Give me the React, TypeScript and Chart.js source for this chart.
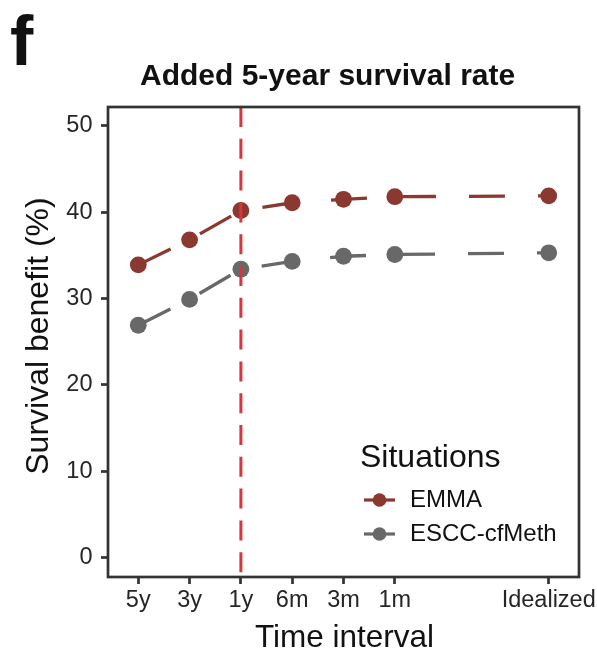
import React, { useEffect, useRef } from 'react';
import { Chart, registerables } from 'chart.js';

Chart.register(...registerables);

const categories = ['5y', '3y', '1y', '6m', '3m', '1m', 'Idealized'];
const categoryPositions = [0, 1, 2, 3, 4, 5, 8];
const emmaValues = [33.9, 36.8, 40.2, 41.1, 41.5, 41.8, 41.9];
const esccValues = [26.9, 29.9, 33.4, 34.3, 34.9, 35.1, 35.3];
const yTickValues = [0, 10, 20, 30, 40, 50];
const seriesLabels = ['EMMA', 'ESCC-cfMeth'];
const seriesColors = ['#8A3830', '#686868'];
const cutoffCategory = '1y';
const panelLetter = 'f';
const chartTitle = 'Added 5-year survival rate';
const xTitle = 'Time interval';
const yTitle = 'Survival benefit (%)';
const legendTitle = 'Situations';

const FONT = "'Liberation Sans', Arial, Helvetica, sans-serif";

const decorPlugin = {
  id: 'decor',
  afterDatasetsDraw(chart: any) {
    const { ctx, chartArea: a, scales } = chart;
    const xv = categoryPositions[categories.indexOf(cutoffCategory)];
    const x = scales.x.getPixelForValue(xv);
    ctx.save();
    ctx.strokeStyle = '#D6373D';
    ctx.lineWidth = 3;
    ctx.setLineDash([20, 11.8]);
    ctx.beginPath();
    ctx.moveTo(x, a.top);
    ctx.lineTo(x, a.bottom);
    ctx.stroke();
    ctx.setLineDash([]);
    ctx.strokeStyle = '#333333';
    ctx.lineWidth = 2.7;
    ctx.strokeRect(a.left, a.top, a.right - a.left, a.bottom - a.top);
    ctx.restore();
  },
  afterDraw(chart: any) {
    const { ctx, chartArea: a } = chart;
    ctx.save();
    ctx.fillStyle = '#111111';
    ctx.textBaseline = 'alphabetic';
    // panel letter
    ctx.font = `bold 70px ${FONT}`;
    ctx.textAlign = 'left';
    ctx.fillText(panelLetter, 10, 65);
    // title
    ctx.font = `bold 30px ${FONT}`;
    ctx.fillText(chartTitle, 140, 85);
    // x title
    ctx.font = `31.5px ${FONT}`;
    ctx.textAlign = 'center';
    ctx.fillText(xTitle, (a.left + a.right) / 2 + 1, 646.7);
    // y title
    ctx.save();
    ctx.translate(47.5, 336);
    ctx.rotate(-Math.PI / 2);
    ctx.font = `32px ${FONT}`;
    ctx.fillText(yTitle, 0, 0);
    ctx.restore();
    // legend
    ctx.textAlign = 'left';
    ctx.font = `32px ${FONT}`;
    ctx.fillText(legendTitle, 360, 466.7);
    const rowY = [500, 534];
    const baseY = [507.3, 541];
    chart.data.datasets.forEach((ds: any, i: number) => {
      ctx.strokeStyle = ds.borderColor;
      ctx.lineWidth = 3.2;
      ctx.beginPath();
      ctx.moveTo(364, rowY[i]);
      ctx.lineTo(395, rowY[i]);
      ctx.stroke();
      ctx.fillStyle = ds.pointBackgroundColor;
      ctx.beginPath();
      ctx.arc(379.5, rowY[i], 6.8, 0, Math.PI * 2);
      ctx.fill();
      ctx.fillStyle = '#111111';
      ctx.font = `24px ${FONT}`;
      ctx.fillText(ds.label, 410, baseY[i]);
    });
    ctx.restore();
  },
};

export default function App() {
  const canvasRef = useRef<HTMLCanvasElement | null>(null);

  useEffect(() => {
    document.body.style.margin = '0';
    const canvas = canvasRef.current;
    if (!canvas) return;
    const makeData = (vals: number[]) =>
      vals.map((v, i) => ({ x: categoryPositions[i], y: v }));
    const chart = new Chart(canvas, {
      type: 'line',
      data: {
        datasets: [emmaValues, esccValues].map((vals, i) => ({
          label: seriesLabels[i],
          data: makeData(vals),
          borderColor: seriesColors[i],
          backgroundColor: seriesColors[i],
          pointBackgroundColor: seriesColors[i],
          pointBorderColor: seriesColors[i],
          pointBorderWidth: 0,
          pointRadius: 8.4,
          borderWidth: 3.3,
          borderDash: [36, 33],
          borderCapStyle: 'butt',
          tension: 0,
          fill: false,
        })),
      },
      options: {
        responsive: false,
        animation: false,
        devicePixelRatio: 1,
        events: [],
        layout: { padding: { top: 107, right: 18, left: 0, bottom: 0 } },
        plugins: {
          legend: { display: false },
          title: { display: false },
          tooltip: { enabled: false },
        },
        scales: {
          x: {
            type: 'linear',
            min: -0.59,
            max: 8.59,
            afterBuildTicks: (s: any) => {
              s.ticks = categoryPositions.map((v) => ({ value: v }));
            },
            afterFit: (s: any) => {
              s.height = 73;
              s.paddingLeft = 0;
              s.paddingRight = 0;
            },
            grid: {
              drawOnChartArea: false,
              drawTicks: true,
              tickLength: 7,
              tickWidth: 2.7,
              tickColor: '#333333',
            },
            border: { display: false },
            ticks: {
              autoSkip: false,
              maxRotation: 0,
              minRotation: 0,
              padding: 2,
              color: '#262626',
              font: { family: FONT, size: 23.5 },
              callback: (value: any) => {
                const idx = categoryPositions.indexOf(Number(value));
                return idx >= 0 ? categories[idx] : '';
              },
            },
          },
          y: {
            type: 'linear',
            min: -2.28,
            max: 52.2,
            afterBuildTicks: (s: any) => {
              s.ticks = yTickValues.map((v) => ({ value: v }));
            },
            afterFit: (s: any) => {
              s.width = 108;
              s.paddingTop = 0;
              s.paddingBottom = 0;
            },
            grid: {
              drawOnChartArea: false,
              drawTicks: true,
              tickLength: 7,
              tickWidth: 2.7,
              tickColor: '#333333',
            },
            border: { display: false },
            ticks: {
              padding: 8.5,
              color: '#262626',
              font: { family: FONT, size: 23.5 },
              callback: (value: any) => String(value),
            },
          },
        },
      },
      plugins: [decorPlugin],
    } as any);
    return () => chart.destroy();
  }, []);

  return (
    <div style={{ position: 'absolute', left: 0, top: 0, width: 597, height: 650 }}>
      <canvas ref={canvasRef} width={597} height={650} style={{ display: 'block', width: 597, height: 650 }} />
    </div>
  );
}
